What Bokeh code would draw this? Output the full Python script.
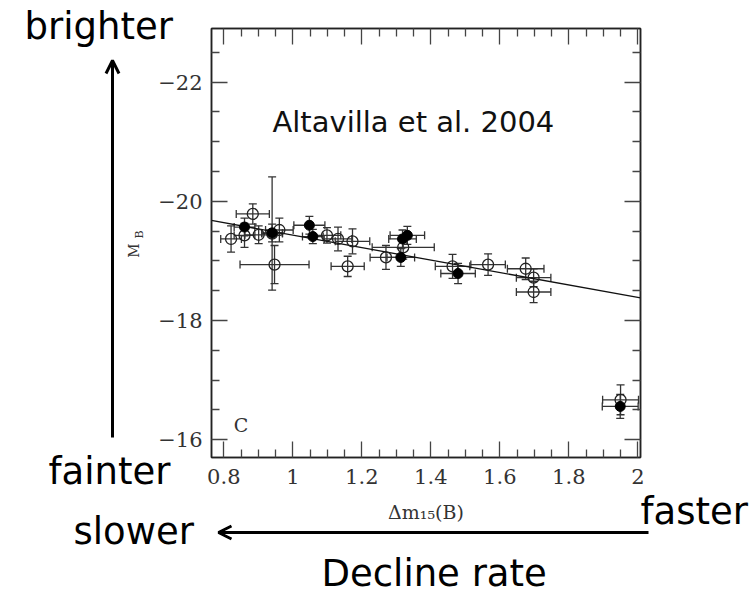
from math import pi
from bokeh.plotting import figure
from bokeh.models import (Range1d, LinearAxis, FixedTicker, Whisker, ColumnDataSource,
                          Label, Arrow, OpenHead, TeeHead, GridBox, Column)
from bokeh.embed import file_html
from bokeh.resources import INLINE

# ---------------- data ----------------
open_dm15 = [0.821, 0.884, 0.860, 0.901, 0.961, 0.940, 0.947, 1.099, 1.131, 1.173,
             1.159, 1.270, 1.320, 1.463, 1.566, 1.675, 1.698, 1.698, 1.950]
open_mb = [-19.37, -19.79, -19.43, -19.44, -19.52, -19.46, -18.94, -19.43, -19.37, -19.33,
           -18.91, -19.06, -19.23, -18.91, -18.94, -18.87, -18.72, -18.48, -16.67]
open_dm15_err = [0.03, 0.048, 0.03, 0.04, 0.04, 0.03, 0.10, 0.04, 0.04, 0.05,
                 0.048, 0.046, 0.09, 0.05, 0.05, 0.053, 0.05, 0.05, 0.052]
open_mb_err = [0.22, 0.17, 0.20, 0.15, 0.20, 0.95, 0.32, 0.13, 0.20, 0.21,
               0.17, 0.20, 0.20, 0.20, 0.18, 0.18, 0.15, 0.18, 0.25]

filled_dm15 = [0.860, 0.940, 1.048, 1.058, 1.332, 1.318, 1.313, 1.479, 1.949]
filled_mb = [-19.57, -19.47, -19.60, -19.41, -19.43, -19.37, -19.06, -18.79, -16.56]
filled_dm15_err = [0.03, 0.03, 0.045, 0.03, 0.05, 0.04, 0.04, 0.05, 0.052]
filled_mb_err = [0.15, 0.15, 0.15, 0.12, 0.15, 0.15, 0.15, 0.17, 0.20]

fit_dm15 = [0.764, 2.008]
fit_mb = [-19.68, -18.38]

x_ticks = [0.8, 1.0, 1.2, 1.4, 1.6, 1.8, 2.0]
x_tick_labels = ["0.8", "1", "1.2", "1.4", "1.6", "1.8", "2"]
x_minor_ticks = [0.75, 0.85, 0.9, 0.95, 1.05, 1.1, 1.15, 1.25, 1.3, 1.35, 1.45, 1.5,
                 1.55, 1.65, 1.7, 1.75, 1.85, 1.9, 1.95]
y_ticks = [-22, -20, -18, -16]
y_tick_labels = ["\u221222", "\u221220", "\u221218", "\u221216"]
y_minor_ticks = [-22.5, -21.5, -21, -20.5, -19.5, -19, -18.5, -17.5, -17, -16.5, -15.5]

W, H = 756, 594
FRAME_L, FRAME_T, FRAME_W, FRAME_H = 211, 28, 429, 429
X0, X1 = 0.7643, 2.0078
Y_BOTTOM, Y_TOP = -15.703, -22.901

SERIF = "DejaVu Serif"
SANS = "DejaVu Sans"

# ---------------- background canvas with the outer annotations ----------------
bg = figure(width=W, height=H, x_range=Range1d(0, W), y_range=Range1d(H, 0),
            x_axis_location=None, y_axis_location=None, min_border=0,
            output_backend="svg", toolbar_location=None)
bg.xgrid.visible = False
bg.ygrid.visible = False
bg.outline_line_color = None
bg.background_fill_color = "white"
bg.border_fill_color = "white"

big = dict(text_font=SANS, text_font_size="37px", text_color="black",
           text_baseline="bottom")
bg.add_layout(Label(x=24, y=47, text="brighter", **big))
bg.add_layout(Label(x=48, y=492, text="fainter", **big))
bg.add_layout(Label(x=73, y=552, text="slower", **big))
bg.add_layout(Label(x=640, y=532, text="faster", **big))
bg.add_layout(Label(x=321, y=594, text="Decline rate", **big))

# y-axis title M_B (rotated, reading upwards)
bg.add_layout(Label(x=133.5, y=250, text="M", angle=pi / 2, text_align="center",
                    text_baseline="middle", text_font=SERIF,
                    text_font_size="14px", text_color="#333333"))
bg.add_layout(Label(x=139, y=234, text="B", angle=pi / 2, text_align="center",
                    text_baseline="middle", text_font=SERIF,
                    text_font_size="11px", text_color="#333333"))

bg.add_layout(Arrow(end=OpenHead(size=13, line_width=3, line_color="black"),
                    x_start=112, y_start=437, x_end=112, y_end=60,
                    line_width=3, line_color="black"))
bg.add_layout(Arrow(end=OpenHead(size=13, line_width=3, line_color="black"),
                    x_start=648, y_start=532, x_end=218, y_end=532,
                    line_width=3, line_color="black"))

# ---------------- main plot ----------------
p = figure(frame_width=FRAME_W, frame_height=FRAME_H,
           x_range=Range1d(X0, X1), y_range=Range1d(Y_BOTTOM, Y_TOP),
           x_axis_location=None, y_axis_location=None,
           output_backend="svg", toolbar_location=None,
           min_border_left=FRAME_L, min_border_right=W - FRAME_L - FRAME_W,
           min_border_top=FRAME_T, min_border_bottom=H - FRAME_T - FRAME_H)
p.xgrid.visible = False
p.ygrid.visible = False
p.outline_line_color = "#222222"
p.outline_line_width = 1.5
p.background_fill_color = None
p.border_fill_color = None

xt = FixedTicker(ticks=x_ticks, minor_ticks=x_minor_ticks)
yt = FixedTicker(ticks=y_ticks, minor_ticks=y_minor_ticks)

bottom_axis = LinearAxis(ticker=xt)
left_axis = LinearAxis(ticker=yt)
top_axis = LinearAxis(ticker=xt)
right_axis = LinearAxis(ticker=yt)
p.add_layout(bottom_axis, "below")
p.add_layout(left_axis, "left")
p.add_layout(top_axis, "above")
p.add_layout(right_axis, "right")

for ax in (bottom_axis, left_axis, top_axis, right_axis):
    ax.major_tick_in = 16
    ax.major_tick_out = 0
    ax.minor_tick_in = 8
    ax.minor_tick_out = 0
    ax.axis_line_color = "#222222"
    ax.axis_line_width = 1.5
    ax.major_tick_line_color = "#444444"
    ax.minor_tick_line_color = "#444444"
    ax.major_tick_line_width = 1.3
    ax.minor_tick_line_width = 1.3
    ax.major_label_text_font = SERIF
    ax.major_label_text_font_size = "21px"
    ax.major_label_text_color = "#333333"

for ax in (top_axis, right_axis):
    ax.major_label_text_color = None
    ax.major_label_text_font_size = "1px"
    ax.major_label_standoff = 0

bottom_axis.major_label_overrides = dict(zip(x_ticks, x_tick_labels))
left_axis.major_label_overrides = dict(zip(y_ticks, y_tick_labels))
bottom_axis.major_label_standoff = 11
left_axis.major_label_standoff = 9
bottom_axis.axis_label = "\u0394m\u2081\u2085(B)"
bottom_axis.axis_label_text_font = SERIF
bottom_axis.axis_label_text_font_size = "19px"
bottom_axis.axis_label_text_font_style = "normal"
bottom_axis.axis_label_text_color = "#333333"
bottom_axis.axis_label_standoff = 14


def add_errors(xs, ys, xe, ye):
    src = ColumnDataSource(dict(
        x=xs, y=ys,
        xl=[a - b for a, b in zip(xs, xe)], xu=[a + b for a, b in zip(xs, xe)],
        yl=[a - b for a, b in zip(ys, ye)], yu=[a + b for a, b in zip(ys, ye)]))
    for dim, base, lo, hi in (("width", "y", "xl", "xu"), ("height", "x", "yl", "yu")):
        w = Whisker(source=src, base=base, lower=lo, upper=hi, dimension=dim,
                    line_color="#333333", line_width=1.3, level="underlay",
                    lower_head=TeeHead(size=8, line_color="#333333", line_width=1.3),
                    upper_head=TeeHead(size=8, line_color="#333333", line_width=1.3))
        p.add_layout(w)


add_errors(open_dm15, open_mb, open_dm15_err, open_mb_err)
add_errors(filled_dm15, filled_mb, filled_dm15_err, filled_mb_err)

p.line(fit_dm15, fit_mb, line_color="#111111", line_width=1.3)

p.scatter(open_dm15, open_mb, marker="circle", size=11, fill_alpha=0,
          line_color="#222222", line_width=1.3)
p.scatter(filled_dm15, filled_mb, marker="circle", size=10, fill_color="black",
          line_color="black")

p.add_layout(Label(x=0.941, y=-21.05, text="Altavilla et al. 2004", text_font=SANS,
                   text_font_size="29px", text_color="#111111", text_baseline="bottom"))
p.add_layout(Label(x=0.829, y=-16.06, text="C", text_font=SERIF,
                   text_font_size="19px", text_color="#333333", text_baseline="bottom"))

# background canvas (wrapped, so its frame is not aligned to the plot's) and plot
# share the same grid cell; the plot is drawn on top with transparent fills
layout = GridBox(children=[(Column(children=[bg]), 0, 0), (p, 0, 0)], spacing=0)

open("out.html", "w").write(file_html(layout, INLINE))
